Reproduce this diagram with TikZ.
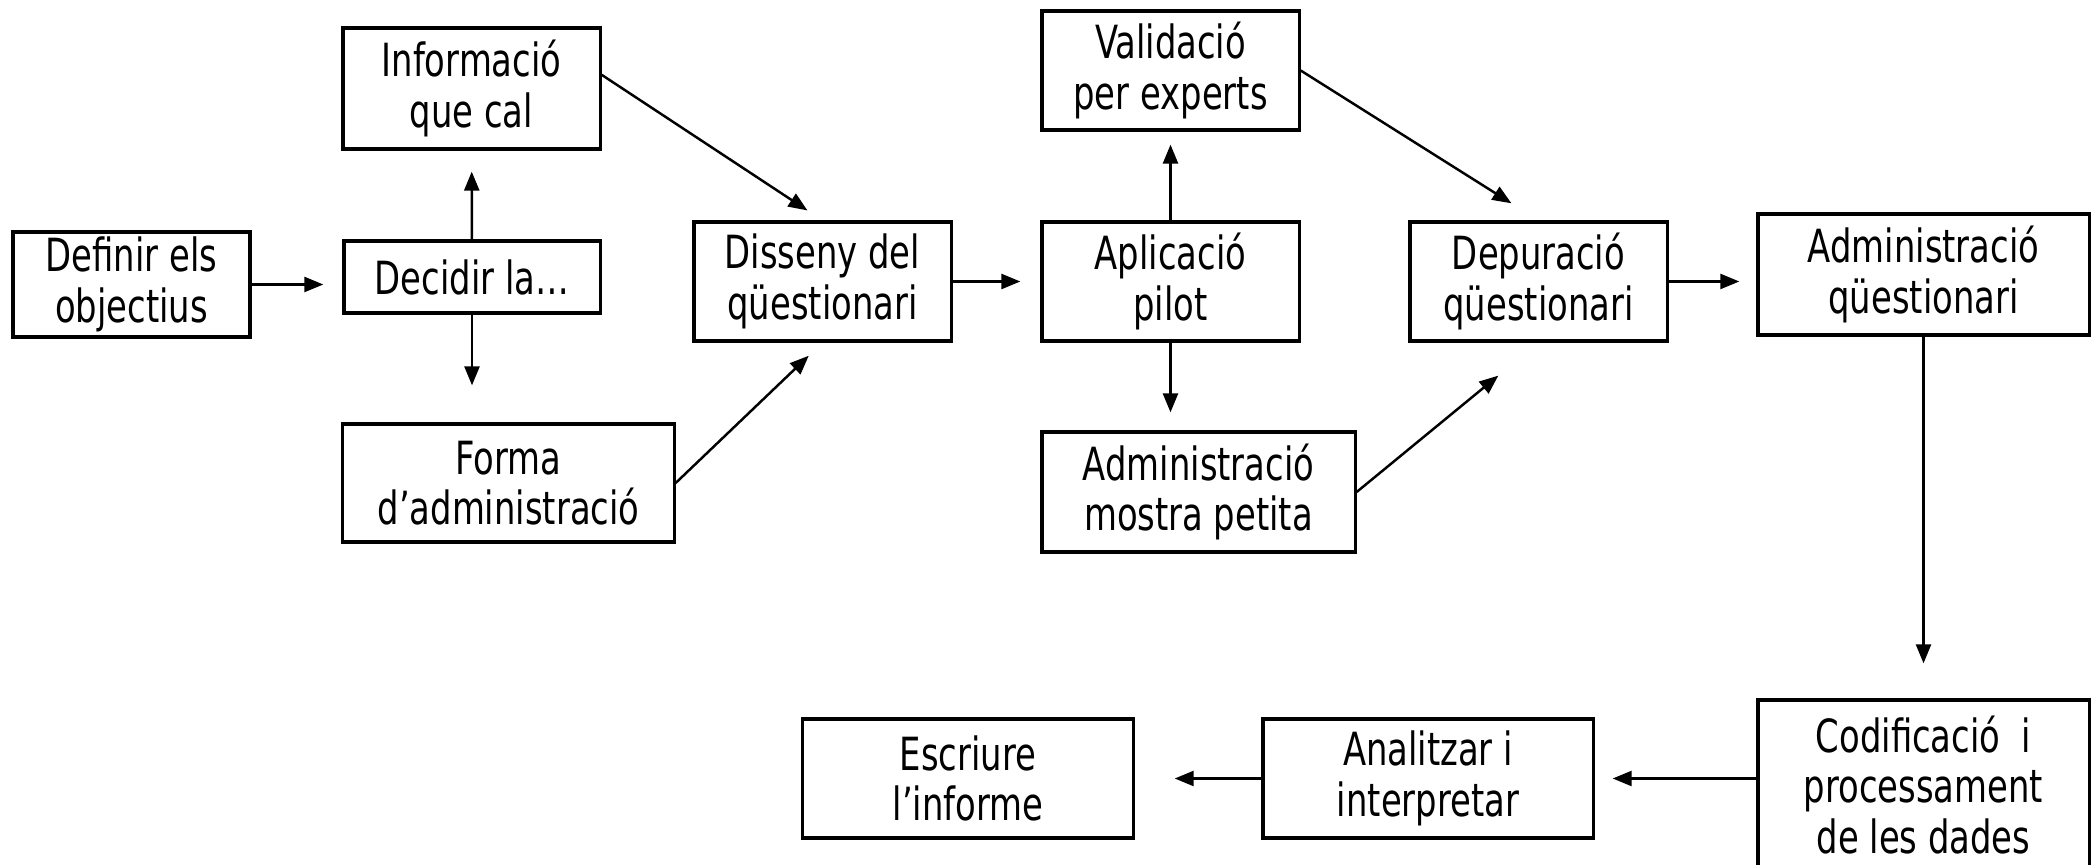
\documentclass[tikz,border=0pt]{standalone}
\usepackage{fontspec}
\setmainfont[FakeStretch=0.74]{DejaVu Sans}
\usetikzlibrary{arrows.meta}
\begin{document}
\begin{tikzpicture}[x=0.01cm,y=-0.01cm,
        box/.style={draw, line width=0.9pt, align=center, inner sep=0pt,
            font=\fontsize{13}{14.4}\selectfont},
        arr/.style={-{Triangle[length=1.9mm,width=1.5mm]}, line width=0.7pt}]
        \useasboundingbox (0,0) rectangle (2100,865);

        \node at (131.5,284.5) [box, minimum width=2.37cm, minimum height=1.05cm] (objectius) {Definir els\\objectius};
        \node at (472,277) [box, minimum width=2.56cm, minimum height=0.72cm] (decidir) {Decidir la\ldots};
        \node at (471.5,88.5) [box, minimum width=2.57cm, minimum height=1.21cm] (informacio) {Informació\\que cal};
        \node at (508.5,483) [box, minimum width=3.31cm, minimum height=1.18cm] (forma) {Forma\\d’administració};
        \node at (822.5,281.5) [box, minimum width=2.57cm, minimum height=1.19cm] (disseny) {Disseny del\\qüestionari};
        \node at (1170.5,70.5) [box, minimum width=2.57cm, minimum height=1.19cm] (validacio) {Validació\\per experts};
        \node at (1170.5,281.5) [box, minimum width=2.57cm, minimum height=1.19cm] (pilot) {Aplicació\\pilot};
        \node at (1198.5,492) [box, minimum width=3.13cm, minimum height=1.20cm] (mostra) {Administració\\mostra petita};
        \node at (1538.5,281.5) [box, minimum width=2.57cm, minimum height=1.19cm] (depuracio) {Depuració\\qüestionari};
        \node at (1923.5,274.5) [box, minimum width=3.31cm, minimum height=1.21cm] (administracio) {Administració\\qüestionari};
        \node at (1923.5,785) [box, minimum width=3.31cm, minimum height=1.70cm] (codificacio) {Codificació~ i\\processament\\de les dades};
        \node at (1428,778.5) [box, minimum width=3.30cm, minimum height=1.19cm] (analitzar) {Analitzar i\\interpretar};
        \node at (968,778.5) [box, minimum width=3.30cm, minimum height=1.19cm] (escriure) {Escriure\\l’informe};

        \draw[arr, shorten >=1.9mm] (objectius.east) -- (objectius.east -| decidir.west);
        \draw[arr, shorten >=2.1mm] (decidir) -- (informacio);
        \draw[arr, shorten >=3.7mm] (decidir.south) -- (decidir.south |- forma.north);
        \draw[arr, shorten >=1.8mm] (informacio.6) -- (disseny.north);
        \draw[arr, shorten >=1.9mm] (forma.east) -- (disseny.south);
        \draw[arr, shorten >=2mm] (disseny) -- (pilot);
        \draw[arr, shorten >=1.3mm] (pilot) -- (validacio);
        \draw[arr, shorten >=1.8mm] (pilot.south) -- (pilot.south |- mostra.north);
        \draw[arr, shorten >=3.2mm] (validacio.east) -- (depuracio.north);
        \draw[arr, shorten >=5.2mm] (mostra.east) -- (depuracio.south);
        \draw[arr, shorten >=1.7mm] (depuracio.east) -- (depuracio.east -| administracio.west);
        \draw[arr, shorten >=3.5mm] (administracio) -- (codificacio);
        \draw[arr, shorten >=1.8mm] (analitzar.east -| codificacio.west) -- (analitzar.east);
        \draw[arr, shorten >=4mm] (analitzar) -- (escriure);
\end{tikzpicture}
\end{document}
